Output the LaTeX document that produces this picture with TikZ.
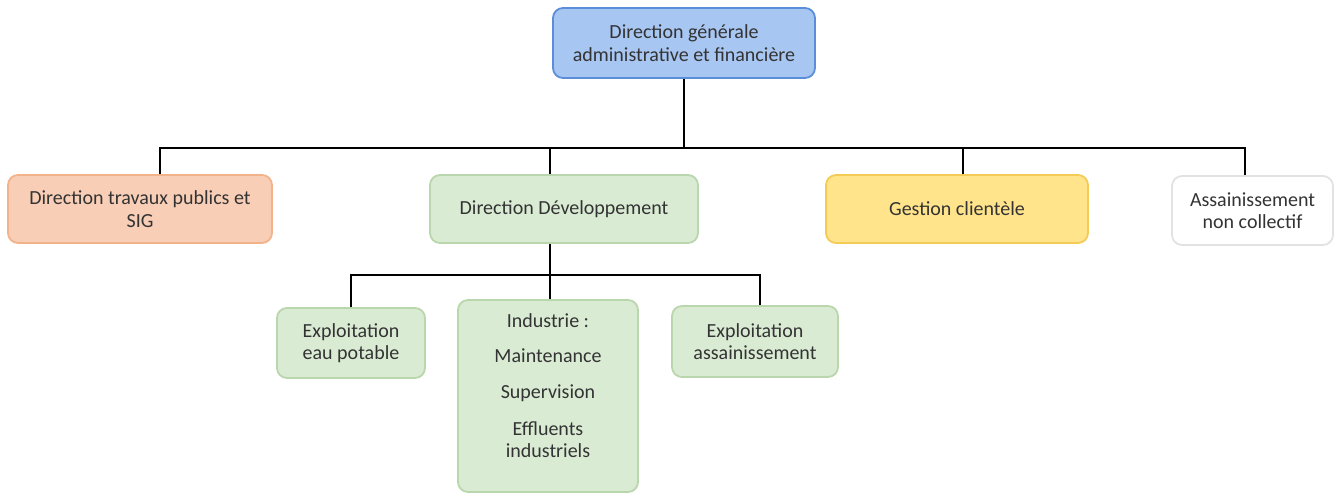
\documentclass[tikz,border=0pt]{standalone}
\usepackage{fontspec}
\setmainfont{Carlito}
\usepackage{tikz}
\usetikzlibrary{positioning}
\definecolor{dgFill}{HTML}{A8C6F2}
\definecolor{dgLine}{HTML}{5B8ED8}
\definecolor{tpFill}{HTML}{F9CEB6}
\definecolor{tpLine}{HTML}{F3B38A}
\definecolor{devFill}{HTML}{DAEBD4}
\definecolor{devLine}{HTML}{B9D6AC}
\definecolor{gcFill}{HTML}{FFE48C}
\definecolor{gcLine}{HTML}{F3CB55}
\definecolor{ancLine}{HTML}{E2E2E2}
\definecolor{txt}{HTML}{333333}

\begin{document}
\begin{tikzpicture}[x=0.5pt, y=-0.5pt,
  box/.style={rectangle, rounded corners=5pt, line width=0.9pt, align=center,
              text=txt, font=\fontsize{10}{11.2}\selectfont, inner sep=2pt},
  link/.style={line width=0.65pt, black}]
  \useasboundingbox (0,0) rectangle (1336,494);

  % niveau 1
  \node[box, draw=dgLine, fill=dgFill, minimum width=131pt, minimum height=35pt]
       (dg) at (684,43) {Direction générale\\administrative et financière};

  % niveau 2
  \node[box, draw=tpLine, fill=tpFill, minimum width=132pt, minimum height=34pt]
       (dtp) at (140,209) {Direction travaux publics et\\SIG};
  \node[box, draw=devLine, fill=devFill, minimum width=134pt, minimum height=34pt]
       (ddev) at (564,209) {Direction Développement};
  \node[box, draw=gcLine, fill=gcFill, minimum width=131pt, minimum height=34pt]
       (gc) at (957,209) {Gestion clientèle};
  \node[box, draw=ancLine, fill=white, minimum width=80.5pt, minimum height=34.5pt]
       (anc) at (1252.5,210.5) {Assainissement\\non collectif};

  % niveau 3
  \node[box, draw=devLine, fill=devFill, minimum width=74pt, minimum height=35pt]
       (eep) at (351,343) {Exploitation\\eau potable};
  \node[box, draw=devLine, fill=devFill, minimum width=90pt, minimum height=96pt]
       (ind) at (548,396) {Industrie :\\[6pt] Maintenance\\[7pt] Supervision\\[7pt]
                           Effluents\\industriels\\[-1pt]\mbox{}};
  \node[box, draw=devLine, fill=devFill, minimum width=83pt, minimum height=35.5pt]
       (eas) at (755,341.5) {Exploitation\\assainissement};

  \coordinate (bus1) at (0,148);
  \coordinate (bus2) at (0,275);

  \draw[link] (dg.south) -- (dg.south |- bus1);
  \draw[link] ([xshift=10pt]dtp.north) |- ([xshift=-3.75pt]anc.north |- bus1)
        -- ([xshift=-3.75pt]anc.north);
  \draw[link] ([xshift=-7pt]ddev.north) -- ([xshift=-7pt]ddev.north |- bus1);
  \draw[link] ([xshift=3pt]gc.north) -- ([xshift=3pt]gc.north |- bus1);

  \draw[link] ([xshift=-7pt]ddev.south) -- ([xshift=-7pt]ddev.south |- bus2);
  \draw[link] (eep.north) |- ([xshift=2.5pt]eas.north |- bus2) -- ([xshift=2.5pt]eas.north);
  \draw[link] ([xshift=1pt]ind.north) -- ([xshift=1pt]ind.north |- bus2);
\end{tikzpicture}
\end{document}
